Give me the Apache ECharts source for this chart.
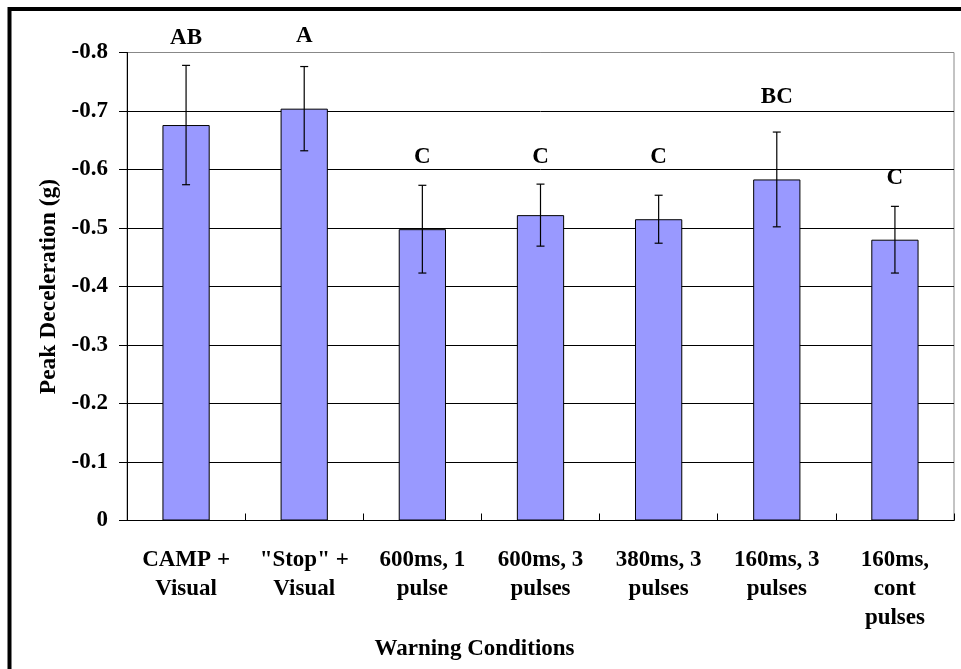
<!DOCTYPE html>
<html>
<head>
<meta charset="utf-8">
<style>
  html, body { margin: 0; padding: 0; background: #fff; }
  #chart { width: 961px; height: 669px; }
</style>
<script src="https://cdn.jsdelivr.net/npm/echarts@6/dist/echarts.min.js"></script>
</head>
<body>
<div id="chart"></div>
<script>
// Warning conditions compared
const categories = [
  'CAMP +\nVisual',
  '"Stop" +\nVisual',
  '600ms, 1\npulse',
  '600ms, 3\npulses',
  '380ms, 3\npulses',
  '160ms, 3\npulses',
  '160ms,\ncont\npulses'
];
// Mean peak deceleration (g)
const peakDecel = [-0.676, -0.704, -0.498, -0.522, -0.515, -0.583, -0.480];
// Half-length of each error bar (g)
const errHalf = [0.102, 0.072, 0.075, 0.053, 0.041, 0.081, 0.057];
// Post-hoc grouping letters and the level they sit at (g)
const groupLetters = ['AB', 'A', 'C', 'C', 'C', 'BC', 'C'];
const letterLevel = [-0.825, -0.828, -0.621, -0.621, -0.621, -0.724, -0.585];
// Y axis ticks
const yMin = -0.8, yMax = 0, yStep = 0.1;

const FONT = '"Liberation Serif", "Times New Roman", serif';

const errData = peakDecel.map((v, i) => [i, v - errHalf[i], v + errHalf[i], letterLevel[i], groupLetters[i]]);

const chart = echarts.init(document.getElementById('chart'), null, { renderer: 'canvas' });

chart.setOption({
  animation: false,
  backgroundColor: '#fff',
  textStyle: { fontFamily: FONT },
  graphic: [{
    type: 'rect',
    shape: { x: 9.5, y: 9, width: 1000, height: 1000 },
    style: { fill: 'none', stroke: '#000', lineWidth: 4 },
    silent: true,
    z: 100
  }],
  grid: {
    left: 127, right: 7, top: 52.5, bottom: 148.5,
    show: true, borderColor: '#888', borderWidth: 1, backgroundColor: 'transparent'
  },
  xAxis: {
    type: 'category',
    data: categories,
    name: 'Warning Conditions',
    nameLocation: 'middle',
    nameGap: 115,
    nameTextStyle: {
      fontFamily: FONT, fontWeight: 'bold', fontSize: 23, color: '#000',
      padding: [0, 132, 0, 0]
    },
    axisLine: { show: true, lineStyle: { color: '#000', width: 1 } },
    axisTick: { show: true, inside: true, length: 7, lineStyle: { color: '#000' } },
    axisLabel: {
      interval: 0, margin: 25,
      fontFamily: FONT, fontWeight: 'bold', fontSize: 23, lineHeight: 29, color: '#000'
    },
    splitLine: { show: false }
  },
  yAxis: {
    type: 'value',
    inverse: true,
    min: yMin, max: yMax, interval: yStep,
    name: 'Peak Deceleration (g)',
    nameLocation: 'middle',
    nameGap: 66,
    nameRotate: 90,
    nameTextStyle: { fontFamily: FONT, fontWeight: 'bold', fontSize: 23.5, color: '#000' },
    axisLine: { show: true, lineStyle: { color: '#000', width: 1 } },
    axisTick: { show: true, inside: false, length: 8, lineStyle: { color: '#000' } },
    axisLabel: {
      margin: 19,
      fontFamily: FONT, fontWeight: 'bold', fontSize: 23, color: '#000',
      formatter: v => (Math.abs(v) < 1e-9 ? '0' : v.toFixed(1))
    },
    splitLine: {
      show: true,
      lineStyle: { color: ['#888', '#000', '#000', '#000', '#000', '#000', '#000', '#000', '#000'], width: 1 }
    }
  },
  series: [
    {
      type: 'bar',
      data: peakDecel,
      barWidth: '40%',
      itemStyle: { color: '#9999FF', borderColor: '#000', borderWidth: 1 },
      z: 2
    },
    {
      type: 'custom',
      data: errData,
      clip: false,
      z: 3,
      renderItem: (params, api) => {
        const i = api.value(0);
        const lo = api.coord([i, api.value(1)]);
        const hi = api.coord([i, api.value(2)]);
        const lp = api.coord([i, api.value(3)]);
        const cap = 4;
        const st = { stroke: '#000', lineWidth: 1.2 };
        return {
          type: 'group',
          children: [
            { type: 'line', shape: { x1: lo[0], y1: lo[1], x2: hi[0], y2: hi[1] }, style: st },
            { type: 'line', shape: { x1: lo[0] - cap, y1: lo[1], x2: lo[0] + cap, y2: lo[1] }, style: st },
            { type: 'line', shape: { x1: hi[0] - cap, y1: hi[1], x2: hi[0] + cap, y2: hi[1] }, style: st },
            {
              type: 'text',
              x: lp[0], y: lp[1],
              style: {
                text: groupLetters[params.dataIndex],
                fontFamily: FONT, fontWeight: 'bold', fontSize: 23, fill: '#000',
                align: 'center', verticalAlign: 'middle'
              }
            }
          ]
        };
      }
    }
  ]
});
</script>
</body>
</html>
